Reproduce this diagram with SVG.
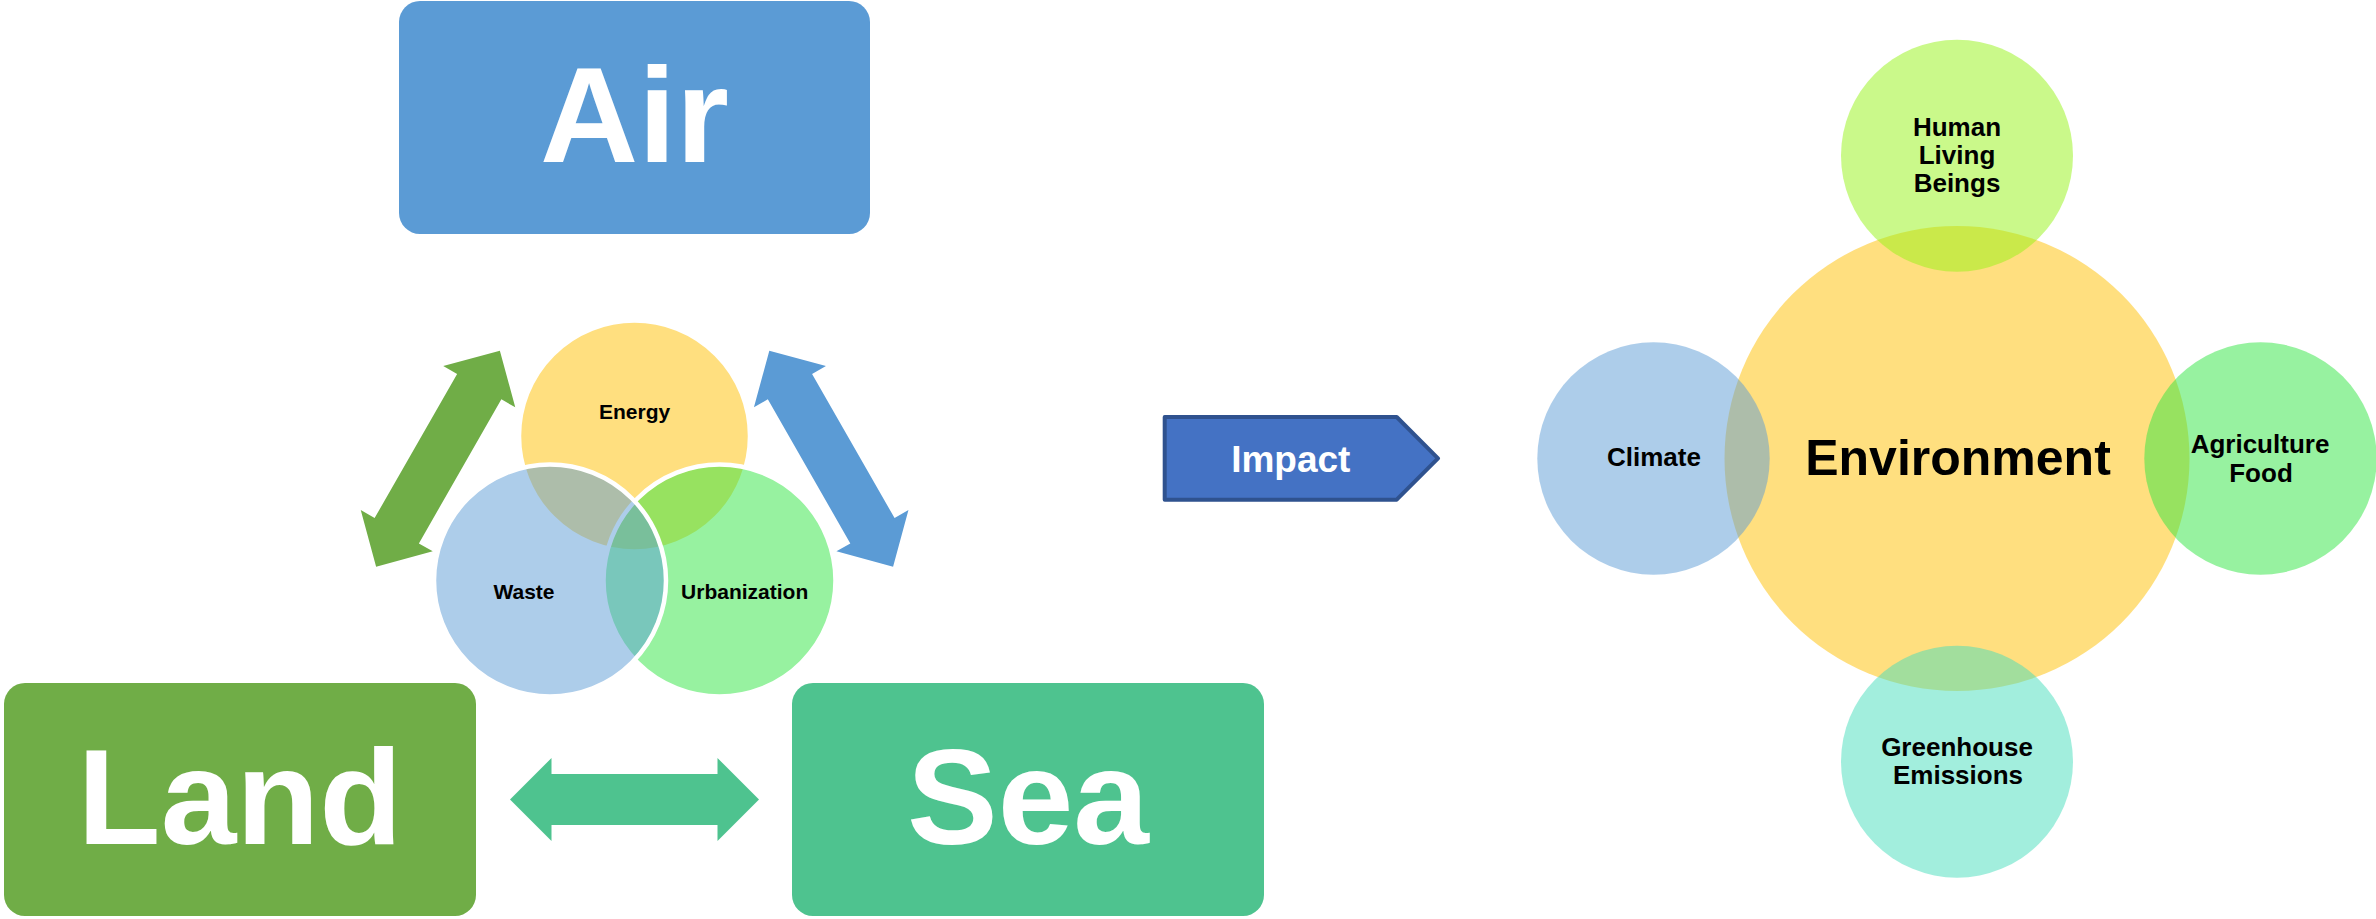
<svg xmlns="http://www.w3.org/2000/svg" width="2376" height="919" viewBox="0 0 2376 919">
  <defs>
    <style>
      .box-label { font-family: "Liberation Sans", Arial, sans-serif; font-weight: bold; font-size: 136px; fill: #ffffff; text-anchor: middle; }
      .venn-label { font-family: "Liberation Sans", Arial, sans-serif; font-weight: bold; font-size: 21px; fill: #000000; text-anchor: middle; }
      .env-label { font-family: "Liberation Sans", Arial, sans-serif; font-weight: bold; font-size: 26px; fill: #000000; text-anchor: middle; }
      .venn { stroke: #ffffff; stroke-width: 4.5; fill-opacity: 0.5; }
      .bubble { fill-opacity: 0.5; }
    </style>
    <!-- double-headed block arrow, centred on the origin, pointing along x -->
    <path id="dbl-arrow" d="M-124.5,0 L-83,-41.5 L-83,-25.5 L83,-25.5 L83,-41.5 L124.5,0 L83,41.5 L83,25.5 L-83,25.5 L-83,41.5 Z"/>
  </defs>

  <rect width="2376" height="919" fill="#ffffff"/>

  <!-- connectors -->
  <g id="connectors">
    <use href="#dbl-arrow" fill="#70AD47" transform="translate(438,458.7) rotate(-60.2)"/>
    <use href="#dbl-arrow" fill="#5B9BD5" transform="translate(831.2,458.7) rotate(60.2)"/>
    <use href="#dbl-arrow" fill="#4EC38F" transform="translate(634.5,799.5)"/>
  </g>

  <!-- source boxes -->
  <g id="air">
    <rect x="399" y="1" width="471" height="233" rx="21" fill="#5B9BD5"/>
    <text class="box-label" x="634.5" y="162">Air</text>
  </g>
  <g id="land">
    <rect x="4" y="683" width="472" height="233" rx="21" fill="#70AD47"/>
    <text class="box-label" x="240" y="844">Land</text>
  </g>
  <g id="sea">
    <rect x="792" y="683" width="472" height="233" rx="21" fill="#4EC38F"/>
    <text class="box-label" x="1028" y="844">Sea</text>
  </g>

  <!-- three-set venn -->
  <g id="energy">
    <circle class="venn" cx="634.5" cy="436" r="115.5" fill="#FFC000"/>
  </g>
  <g id="urbanization">
    <circle class="venn" cx="719.5" cy="580.5" r="116" fill="#2FE541"/>
  </g>
  <g id="waste">
    <circle class="venn" cx="550" cy="580.5" r="116" fill="#5B9BD5"/>
  </g>
  <g id="venn-labels">
    <text class="venn-label" x="634.6" y="419.3">Energy</text>
    <text class="venn-label" x="524" y="599">Waste</text>
    <text class="venn-label" x="744.7" y="599">Urbanization</text>
  </g>

  <!-- impact pointer -->
  <g id="impact">
    <path d="M1164.7,417 L1396.7,417 L1438,458.3 L1396.7,499.7 L1164.7,499.7 Z" fill="#4472C4" stroke="#2F528F" stroke-width="4" stroke-linejoin="round"/>
    <text x="1290.8" y="471.7" font-family="Liberation Sans, Arial, sans-serif" font-weight="bold" font-size="37" fill="#ffffff" text-anchor="middle">Impact</text>
  </g>

  <!-- environment cluster -->
  <g id="environment">
    <circle class="bubble" cx="1957" cy="458.5" r="232.5" fill="#FFC000"/>
    <text x="1958" y="475" font-family="Liberation Sans, Arial, sans-serif" font-weight="bold" font-size="50" fill="#000000" text-anchor="middle">Environment</text>
  </g>
  <g id="human-living-beings">
    <circle class="bubble" cx="1957" cy="155.7" r="116" fill="#95F315"/>
    <text class="env-label" x="1957" y="135.7">Human</text>
    <text class="env-label" x="1957" y="164">Living</text>
    <text class="env-label" x="1957" y="192.3">Beings</text>
  </g>
  <g id="climate">
    <circle class="bubble" cx="1653.5" cy="458.5" r="116.2" fill="#5B9BD5"/>
    <text class="env-label" x="1654" y="466">Climate</text>
  </g>
  <g id="agriculture-food">
    <circle class="bubble" cx="2260.5" cy="458.5" r="116.2" fill="#2FE541"/>
    <text class="env-label" x="2260" y="453.3">Agriculture</text>
    <text class="env-label" x="2261" y="481.7">Food</text>
  </g>
  <g id="greenhouse-emissions">
    <circle class="bubble" cx="1957" cy="761.7" r="116" fill="#45DDBB"/>
    <text class="env-label" x="1957" y="756">Greenhouse</text>
    <text class="env-label" x="1958" y="784.3">Emissions</text>
  </g>
</svg>
